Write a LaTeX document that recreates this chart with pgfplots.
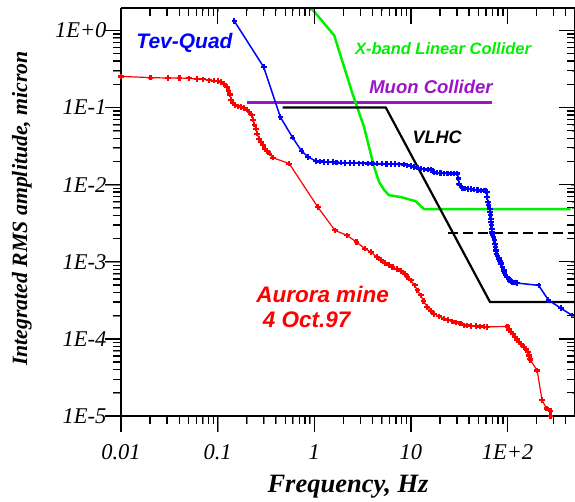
\documentclass[border=0pt]{standalone}
\usepackage{pgfplots}
\pgfplotsset{compat=1.18}
\usepackage{fontspec}
\setmainfont{Liberation Serif}
\setsansfont{Liberation Sans}
\definecolor{xgreen}{RGB}{0,240,0}
\definecolor{mupurple}{RGB}{155,20,200}
\definecolor{tevblue}{RGB}{0,0,255}
\definecolor{aured}{RGB}{255,0,0}
\pgfplotsset{
  common/.style={scale only axis, width=454pt, height=408pt,
    xmin=0.01, xmax=500, ymin=1e-5, ymax=1.95,
    axis line style={-, line width=1.6pt, black},
    xtick={0.01,0.1,1,10,100},
    ytick={1e-5,1e-4,1e-3,1e-2,1e-1,1},
  },
  mk/.style={mark=+, mark size=2.8pt, mark options={line width=2.2pt}},
}
\tikzset{tk/.style={line width=1.3pt, black}}
\begin{document}
\begin{tikzpicture}
\begin{loglogaxis}[common, name=main,
  axis x line*=bottom, axis y line*=left, tick align=outside,
  major tick length=16pt, minor tick length=8pt,
  xticklabels={0.01,0.1,1,10,1E+2},
  yticklabels={1E-5,1E-4,1E-3,1E-2,1E-1,1E+0},
  ticklabel style={font=\fontsize{22.5}{27}\selectfont\itshape},
  xticklabel style={yshift=-9pt},
  yticklabel style={xshift=5pt},
  xlabel={Frequency, Hz},
  ylabel={Integrated RMS amplitude, micron},
  xlabel style={font=\fontsize{26.5}{30}\selectfont\bfseries\itshape, at={(axis description cs:0.5,-0.1863)}, anchor=base},
  ylabel style={font=\fontsize{21.8}{26}\selectfont\bfseries\itshape, at={(axis description cs:-0.2070,0.5086)}, anchor=base},
]
% Muon collider
\addplot[mupurple, line width=3pt, no marks] coordinates {(0.2,0.115) (70,0.115)};
% X-band
\addplot[xgreen, line width=2.5pt, no marks] coordinates {
(0.93,1.95) (1.61,0.861) (2.49,0.151) (3.28,0.0558) (4.0,0.0206) (4.17,0.0169) (4.7,0.0108) (5.3,0.0085) (5.95,0.0073) (7.87,0.0069) (11.2,0.0061) (13.7,0.0048) (450,0.0048)};
% VLHC
\addplot[black, line width=2.2pt, no marks] coordinates {(0.47,0.1) (5.5,0.1) (66,0.0003) (500,0.0003)};
\addplot[black, line width=2.5pt, no marks, dash pattern=on 10pt off 5pt] coordinates {(24,0.00236) (500,0.00236)};
% Tev-Quad
\addplot[tevblue, line width=1.5pt, mk] coordinates {
(0.149,1.32) (0.300,0.334) (0.446,0.0752) (0.598,0.0407) (0.741,0.0272) (0.867,0.0228)
(1.04,0.0202) (1.15,0.0199) (1.27,0.0197) (1.4,0.0196) (1.55,0.0195) (1.7,0.0194) (1.9,0.0193)
(2.1,0.0192) (2.35,0.0191) (2.6,0.019) (2.9,0.0189) (3.2,0.0189) (3.6,0.0188) (4.0,0.0188)
(4.5,0.0187) (5.0,0.0187) (5.6,0.0186) (6.2,0.0185) (6.9,0.0184) (7.6,0.0183) (8.5,0.0182)
(9.2,0.0178) (10,0.0174) (10.8,0.017) (11.7,0.0166) (12.7,0.0161) (13.8,0.0158) (15,0.0157)
(16.1,0.0156) (16.8,0.0150) (17.4,0.0146) (18.5,0.0143) (20.3,0.0141) (22,0.014) (24,0.014)
(26,0.0139) (28,0.0139) (30.3,0.0139) (31,0.012) (31.4,0.0103) (32,0.0098) (34.1,0.0091)
(36,0.0089) (39,0.0088) (42,0.0087) (45,0.0086) (49,0.0085) (53,0.0084) (57,0.0084)
(59.5,0.0083) (61.8,0.0080) (61.8,0.0069) (62.9,0.0059) (63.5,0.0054) (65.8,0.00486) (66.3,0.0044)
(66.8,0.0040) (67.4,0.0036) (67.9,0.00327) (68.5,0.0030) (69.0,0.00269) (69.5,0.0024) (70.1,0.0022)
(71.5,0.0021) (73.4,0.0019) (74.3,0.0017) (75.2,0.00155) (76,0.0014) (77,0.00127) (79,0.00118)
(81.2,0.0011) (83.5,0.00102) (86,0.00095) (88.5,0.00086) (91.5,0.00077) (93.5,0.00072) (95.6,0.00068)
(99.1,0.00063) (102,0.0006) (105,0.00058) (108,0.00056) (111.6,0.000546) (118,0.00054)
(125.5,0.00053) (210,0.000494) (265,0.00032) (356,0.00025) (466,0.000202) (500,0.000192)};
% Aurora mine
\addplot[aured, line width=1.2pt, mk] coordinates {
(0.0100,0.253) (0.0202,0.244) (0.0306,0.241) (0.0403,0.241) (0.0508,0.239) (0.0614,0.234)
(0.0704,0.232) (0.0811,0.225) (0.0914,0.223) (0.1005,0.220) (0.1087,0.216) (0.1175,0.200)
(0.1245,0.184) (0.1294,0.163) (0.1346,0.147) (0.138,0.126) (0.1435,0.114) (0.1517,0.1066)
(0.1618,0.1035) (0.175,0.1013) (0.189,0.0984) (0.2018,0.0938) (0.213,0.0873) (0.2257,0.0791)
(0.233,0.0695) (0.240,0.060) (0.248,0.0532) (0.256,0.0458) (0.2684,0.0394) (0.281,0.0357)
(0.295,0.0323) (0.309,0.0292) (0.325,0.0272) (0.346,0.0252) (0.372,0.0224) (0.552,0.0187)
(1.09,0.0051) (1.64,0.00255) (2.18,0.0022) (2.74,0.0018) (3.34,0.00148) (3.85,0.00134)
(4.44,0.00115) (4.9,0.00105) (5.37,0.00096) (5.96,0.0009) (6.46,0.00085) (7.14,0.00081)
(7.87,0.00076) (8.67,0.0007) (9.22,0.00063) (9.98,0.000574) (10.97,0.000494) (11.7,0.000426)
(12.65,0.000367) (13.5,0.00031) (14.8,0.000259) (16.1,0.00023) (17.4,0.000212) (19.5,0.000196)
(22.0,0.000183) (24.3,0.000175) (26.9,0.000169) (29.5,0.000163) (32.7,0.000158) (35.4,0.00015)
(38,0.000149) (42,0.000148) (46.8,0.000146) (52,0.000145) (57,0.000144) (61.8,0.000143)
(100,0.000145) (103,0.000132) (109,0.000123) (115,0.000115) (120,0.000106) (125.5,9.8e-5)
(131,9.1e-5) (139,8.5e-5) (148,7.8e-5) (157,7.3e-5) (162,6.8e-5) (166,6.1e-5) (170,5.5e-5)
(173,5.3e-5) (203,3.9e-5) (228,1.6e-5) (254,1.25e-5) (279,1.16e-5) (279,1.0e-5)};
% annotations
\node[anchor=base west, inner sep=0, text=tevblue, font=\fontsize{21}{24}\selectfont\sffamily\bfseries\itshape] at (axis cs:0.0144,0.579) {Tev-Quad};
\node[anchor=base west, inner sep=0, text=xgreen, font=\fontsize{16.5}{20}\selectfont\sffamily\bfseries\itshape] at (axis cs:2.63,0.484) {X-band Linear Collider};
\node[anchor=base west, inner sep=0, text=mupurple, font=\fontsize{18.5}{22}\selectfont\sffamily\bfseries\itshape] at (axis cs:3.70,0.154) {Muon Collider};
\node[anchor=base west, inner sep=0, text=black, font=\fontsize{18}{22}\selectfont\sffamily\bfseries\itshape] at (axis cs:10.4,0.0346) {VLHC};
\node[anchor=base west, inner sep=0, text=aured, font=\fontsize{22.5}{26}\selectfont\sffamily\bfseries\itshape] at (axis cs:0.25,0.000292) {Aurora mine};
\node[anchor=base west, inner sep=0, text=aured, font=\fontsize{22.5}{26}\selectfont\sffamily\bfseries\itshape] at (axis cs:0.293,0.0001425) {4 Oct.97};
\end{loglogaxis}
\begin{loglogaxis}[common,
  axis x line*=top, axis y line*=right, tick align=inside,
  xticklabels={}, yticklabels={}]
\end{loglogaxis}
% tick marks of the log axes: bottom/left outside, top/right inside
\begin{scope}[shift={(main.south west)}, x=1pt, y=1pt]
\foreach \d in {0,...,4}{
  \foreach \m in {1,...,9}{
    \pgfmathsetmacro{\xx}{96.617*(\d+log10(\m))}
    \ifnum\m=1 \def\len{16}\else\def\len{8}\fi
    \ifdim\xx pt<453pt
      \draw[tk] (\xx,0) -- (\xx,-\len);
      \draw[tk] (\xx,408) -- (\xx,408-\len);
    \fi
  }
}
\foreach \e in {0,...,5}{
  \foreach \m in {1,...,9}{
    \pgfmathsetmacro{\yy}{77.126*(\e+log10(\m))}
    \ifnum\m=1 \def\len{16}\else\def\len{8}\fi
    \ifdim\yy pt<407pt
      \draw[tk] (0,\yy) -- (-\len,\yy);
      \draw[tk] (454,\yy) -- (454-\len,\yy);
    \fi
  }
}
\end{scope}
\pgfresetboundingbox
\path (main.south west) ++(-121pt,-85pt) rectangle ++(575pt,501pt);
\end{tikzpicture}
\end{document}
